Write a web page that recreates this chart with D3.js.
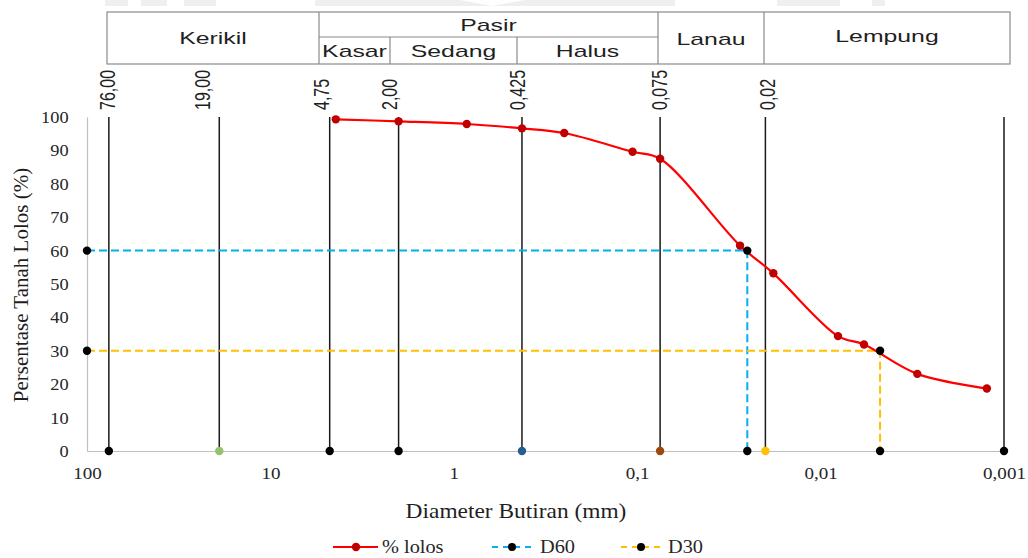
<!DOCTYPE html>
<html>
<head>
<meta charset="utf-8">
<script src="https://cdn.jsdelivr.net/npm/d3@7/dist/d3.min.js"></script>
<style>
  html, body { margin: 0; padding: 0; background: #fff; }
  svg { display: block; }
</style>
</head>
<body>
<svg id="chart" width="1028" height="558"></svg>
<script>
// Grain size distribution (sieve + hydrometer)
const diameters = [4.4, 2.0, 0.85, 0.425, 0.25, 0.106, 0.075, 0.0275, 0.0181, 0.00804, 0.0058, 0.00297, 0.00124];
const percentPassing = [99.3, 98.7, 97.9, 96.6, 95.2, 89.6, 87.5, 61.5, 53.2, 34.4, 31.9, 23.1, 18.7];

// D60 / D30 read-off lines
const d60 = 0.0251;
const d30 = 0.00474;

// Classification boundaries (mm)
const boundaries = [76, 19, 4.75, 2.0, 0.425, 0.075, 0.02, 0.001];
const boundaryLabels = ["76,00", "19,00", "4,75", "2,00", "0,425", "0,075", "0,02", ""];
const boundaryDotColors = ["#000", "#92c36c", "#000", "#000", "#255e91", "#9e480e", "#ffc000", "#000"];

// Axis ticks
const xTicks = [100, 10, 1, 0.1, 0.01, 0.001];
const xTickLabels = ["100", "10", "1", "0,1", "0,01", "0,001"];
const yTicks = [0, 10, 20, 30, 40, 50, 60, 70, 80, 90, 100];

// Soil classes in the header table
const mainClasses = ["Kerikil", "Pasir", "Lanau", "Lempung"];
const sandClasses = ["Kasar", "Sedang", "Halus"];

const svg = d3.select("#chart");
const serif = "'Liberation Serif', 'Times New Roman', serif";
const sans = "'Liberation Sans', Arial, sans-serif";

const x = d3.scaleLog().domain([100, 0.001]).range([87, 1004]);
const y = d3.scaleLinear().domain([0, 100]).range([451, 117]);

// faint watermark band at the very top
const wm = svg.append("g").attr("fill", "#efefef");
[[105,128],[141,167],[184,216],[777,840],[872,885]].forEach(([a,b]) =>
  wm.append("rect").attr("x", a).attr("y", 0).attr("width", b - a).attr("height", 6));
wm.append("path").attr("d", "M315,0 L460,0 L492,6 L525,0 L675,0 L675,6 L315,6 Z");

// ---- header classification table ----
const hdr = { top: 12, mid: 37, bottom: 64, edges: [107, 319, 390, 517, 658, 764, 1010] };
const tbl = svg.append("g").attr("fill", "none").attr("stroke", "#8a8a8a").attr("stroke-width", 1.2);
const E = hdr.edges;
tbl.append("rect").attr("x", E[0]).attr("y", hdr.top).attr("width", E[6] - E[0]).attr("height", hdr.bottom - hdr.top).attr("fill", "#fff");
[E[1], E[4], E[5]].forEach(v => tbl.append("line").attr("x1", v).attr("x2", v).attr("y1", hdr.top).attr("y2", hdr.bottom));
[E[2], E[3]].forEach(v => tbl.append("line").attr("x1", v).attr("x2", v).attr("y1", hdr.mid).attr("y2", hdr.bottom));
tbl.append("line").attr("x1", E[1]).attr("x2", E[4]).attr("y1", hdr.mid).attr("y2", hdr.mid);

function hText(txt, cx, base) {
  svg.append("text")
    .attr("transform", `translate(${cx},${base}) scale(1.55,1)`)
    .attr("text-anchor", "middle")
    .attr("font-family", sans).attr("font-size", 16).attr("fill", "#1f1f1f")
    .text(txt);
}
hText(mainClasses[0], (E[0] + E[1]) / 2, 44);
hText(mainClasses[1], (E[1] + E[4]) / 2, 31);
hText(mainClasses[2], (E[4] + E[5]) / 2, 45);
hText(mainClasses[3], (E[5] + E[6]) / 2, 42);
hText(sandClasses[0], (E[1] + E[2]) / 2, 57);
hText(sandClasses[1], (E[2] + E[3]) / 2, 57);
hText(sandClasses[2], (E[3] + E[4]) / 2, 57);

// ---- axes ----
const yAxis = svg.append("g").attr("transform", `translate(${x(100)},0)`)
  .call(d3.axisLeft(y).tickValues(yTicks).tickSize(0).tickPadding(17));
const xAxis = svg.append("g").attr("transform", `translate(0,${y(0)})`)
  .call(d3.axisBottom(x).tickValues(xTicks).tickSize(0).tickPadding(16)
    .tickFormat((d, i) => xTickLabels[i]));
[yAxis, xAxis].forEach(g => {
  g.select(".domain").attr("stroke", "#bfbfbf").attr("stroke-width", 1.2);
  g.selectAll("text").attr("font-family", serif).attr("font-size", 17).attr("fill", "#262626");
});
xAxis.selectAll(".tick text").attr("transform", "scale(1.12,1)");
yAxis.selectAll(".tick text").attr("transform", "scale(1.08,1)");

// axis titles
svg.append("text")
  .attr("transform", `translate(28,285) rotate(-90)`)
  .attr("text-anchor", "middle").attr("font-family", serif).attr("font-size", 21).attr("fill", "#1f1f1f")
  .text("Persentase Tanah Lolos (%)");
svg.append("text")
  .attr("transform", `translate(516,518) scale(1.17,1)`)
  .attr("text-anchor", "middle").attr("font-family", serif).attr("font-size", 20).attr("fill", "#1f1f1f")
  .text("Diameter Butiran (mm)");

// ---- boundary lines ----
const labelShift = { "76,00": -1, "19,00": -17, "4,75": -8, "2,00": -9, "0,425": -4, "0,075": -1, "0,02": 2 };
const bnd = svg.append("g");
boundaries.forEach((d, i) => {
  bnd.append("line")
    .attr("x1", x(d)).attr("x2", x(d)).attr("y1", y(0)).attr("y2", y(100))
    .attr("stroke", "#1a1a1a").attr("stroke-width", 1.5);
  if (boundaryLabels[i]) {
    svg.append("text")
      .attr("transform", `translate(${x(d) + labelShift[boundaryLabels[i]]},110) scale(1.35,1) rotate(-90)`)
      .attr("dominant-baseline", "central")
      .attr("font-family", sans).attr("font-size", 16).attr("fill", "#1f1f1f")
      .text(boundaryLabels[i]);
  }
});

// ---- D60 / D30 dashed read-off lines ----
function readOff(dVal, pct, color) {
  const pts = [[100, pct], [dVal, pct], [dVal, 0]];
  svg.append("path")
    .attr("d", d3.line().x(p => x(p[0])).y(p => y(p[1]))(pts))
    .attr("fill", "none").attr("stroke", color).attr("stroke-width", 2)
    .attr("stroke-dasharray", "8,4");
  return pts;
}
const d60pts = readOff(d60, 60, "#00b0f0");
const d30pts = readOff(d30, 30, "#ffc000");

// ---- passing curve ----
const curveData = diameters.map((d, i) => [d, percentPassing[i]]);
svg.append("path")
  .attr("d", d3.line().x(p => x(p[0])).y(p => y(p[1])).curve(d3.curveCatmullRom.alpha(0.5))(curveData))
  .attr("fill", "none").attr("stroke", "#ff0000").attr("stroke-width", 2.2);
svg.append("g").selectAll("circle").data(curveData).join("circle")
  .attr("cx", p => x(p[0])).attr("cy", p => y(p[1])).attr("r", 4.2).attr("fill", "#c00000");

// markers on read-off lines
svg.append("g").selectAll("circle").data(d60pts.concat(d30pts)).join("circle")
  .attr("cx", p => x(p[0])).attr("cy", p => y(p[1])).attr("r", 4.2).attr("fill", "#000");

// boundary markers at the base
svg.append("g").selectAll("circle").data(boundaries).join("circle")
  .attr("cx", d => x(d)).attr("cy", y(0)).attr("r", 4.2)
  .attr("fill", (d, i) => boundaryDotColors[i]);

// ---- legend ----
const lg = svg.append("g").attr("transform", "translate(0,547)");
lg.append("line").attr("x1", 333).attr("x2", 378).attr("stroke", "#ff0000").attr("stroke-width", 2.2);
lg.append("circle").attr("cx", 356).attr("r", 4.2).attr("fill", "#c00000");
lg.append("line").attr("x1", 492).attr("x2", 531).attr("stroke", "#00b0f0").attr("stroke-width", 2).attr("stroke-dasharray", "6,5");
lg.append("circle").attr("cx", 512).attr("r", 4).attr("fill", "#000");
lg.append("line").attr("x1", 621).attr("x2", 660).attr("stroke", "#ffc000").attr("stroke-width", 2).attr("stroke-dasharray", "6,5");
lg.append("circle").attr("cx", 641).attr("r", 4).attr("fill", "#000");
[["% lolos", 382], ["D60", 540], ["D30", 668]].forEach(([t, px]) =>
  lg.append("text").attr("transform", `translate(${px},6) scale(1.13,1)`)
    .attr("font-family", serif).attr("font-size", 18).attr("fill", "#262626").text(t));
</script>
</body>
</html>
